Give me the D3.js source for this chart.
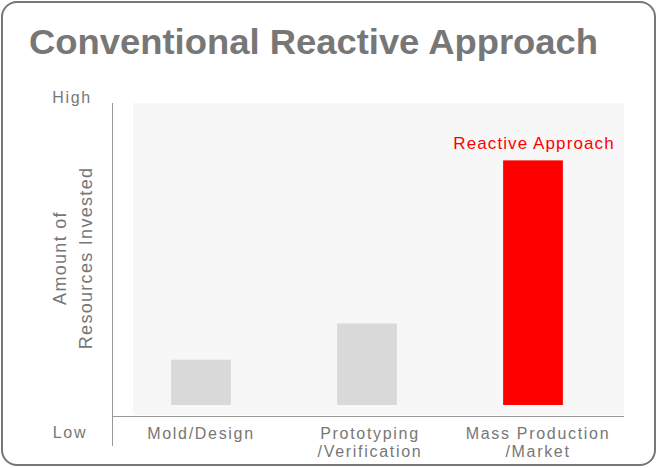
<!DOCTYPE html>
<html>
<head>
<meta charset="utf-8">
<script src="https://cdn.jsdelivr.net/npm/d3@7"></script>
<style>
  body { margin: 0; background: #fff; }
  svg text { font-family: "Liberation Sans", Arial, sans-serif; }
</style>
</head>
<body>
<div id="chart"></div>
<script>

var categories = [['Mold/Design'], ['Prototyping', '/Verification'], ['Mass Production', '/Market']];
var values = [15, 27, 81];
var highlight = [false, false, true];
var barLabels = ['', '', 'Reactive Approach'];
var levelLabels = ['Low', 'High'];

var width = 660;
var height = 468;

var svg = d3.select('#chart')
		.append('svg')
		.attr('width', width)
		.attr('height', height);

// Frame
svg.append('rect')
		.attr('x', 2)
		.attr('y', 2)
		.attr('width', 653)
		.attr('height', 463)
		.attr('rx', 15)
		.attr('ry', 15)
		.attr('fill', '#fff')
		.attr('stroke', '#777')
		.attr('stroke-width', 2);

// Title
svg.append('text')
		.attr('x', 29)
		.attr('y', 54)
		.attr('font-size', '35px')
		.attr('font-weight', 700)
		.attr('fill', '#777')
		.attr('textLength', 569)
		.attr('lengthAdjust', 'spacingAndGlyphs')
		.text('Conventional Reactive Approach');

// Plot area
var plot = { left: 133, right: 624, top: 103, bottom: 415 };

svg.append('rect')
		.attr('x', plot.left)
		.attr('y', plot.top)
		.attr('width', plot.right - plot.left)
		.attr('height', plot.bottom - plot.top)
		.attr('fill', '#f7f7f7');

var x = d3.scaleBand()
		.domain(d3.range(categories.length))
		.range([118, 616])
		.paddingInner(0.64)
		.paddingOuter(0.32);

var y = d3.scaleLinear()
		.domain([0, 100])
		.range([405, 103]);

// Bars
svg.selectAll('rect.bar')
		.data(values)
		.enter()
		.append('rect')
		.classed('bar', true)
		.attr('x', function (d, i) { return x(i); })
		.attr('y', function (d) { return y(d); })
		.attr('width', x.bandwidth())
		.attr('height', function (d) { return y(0) - y(d); })
		.attr('fill', function (d, i) { return highlight[i] ? '#ff0000' : '#d9d9d9'; });

// Bar label
svg.selectAll('text.bar-label')
		.data(values)
		.enter()
		.append('text')
		.classed('bar-label', true)
		.attr('x', function (d, i) { return x(i) + x.bandwidth() / 2 + 1; })
		.attr('y', function (d) { return y(d) - 11; })
		.attr('font-size', '17px')
		.attr('letter-spacing', '1.1px')
		.attr('fill', '#ff0000')
		.attr('text-anchor', 'middle')
		.text(function (d, i) { return barLabels[i]; });

// Axis lines
svg.append('line')
		.attr('x1', 112.5)
		.attr('y1', plot.top)
		.attr('x2', 112.5)
		.attr('y2', 446)
		.attr('stroke', '#999')
		.attr('stroke-width', 1);

svg.append('line')
		.attr('x1', 112)
		.attr('y1', 416.5)
		.attr('x2', plot.right)
		.attr('y2', 416.5)
		.attr('stroke', '#999')
		.attr('stroke-width', 1);

// Category labels
var catText = svg.selectAll('text.cat')
		.data(categories)
		.enter()
		.append('text')
		.classed('cat', true)
		.attr('text-anchor', 'middle')
		.attr('font-size', '16px')
		.attr('letter-spacing', '1.7px')
		.attr('fill', '#777');

catText.selectAll('tspan')
		.data(function (d, i) { return d.map(function (t) { return { t: t, i: i }; }); })
		.enter()
		.append('tspan')
		.attr('x', function (d) { return x(d.i) + x.bandwidth() / 2 + [0, 3, 5][d.i]; })
		.attr('y', function (d, j) { return 439 + j * 18; })
		.text(function (d) { return d.t; });

// Low / High
svg.selectAll('text.level')
		.data(levelLabels)
		.enter()
		.append('text')
		.classed('level', true)
		.attr('x', function (d, i) { return i === 0 ? 70 : 72; })
		.attr('y', function (d, i) { return i === 0 ? 438 : 103; })
		.attr('text-anchor', 'middle')
		.attr('font-size', '16px')
		.attr('letter-spacing', '1.7px')
		.attr('fill', '#777')
		.text(function (d) { return d; });

// Y axis title
var yTitle = svg.append('text')
		.attr('transform', 'translate(0,258) rotate(-90)')
		.attr('text-anchor', 'middle')
		.attr('font-size', '18px')
		.attr('letter-spacing', '1.3px')
		.attr('fill', '#777');

yTitle.append('tspan').attr('x', 0).attr('y', 66).text('Amount of');
yTitle.append('tspan').attr('x', 0).attr('y', 92).text('Resources Invested');

</script>
</body>
</html>
